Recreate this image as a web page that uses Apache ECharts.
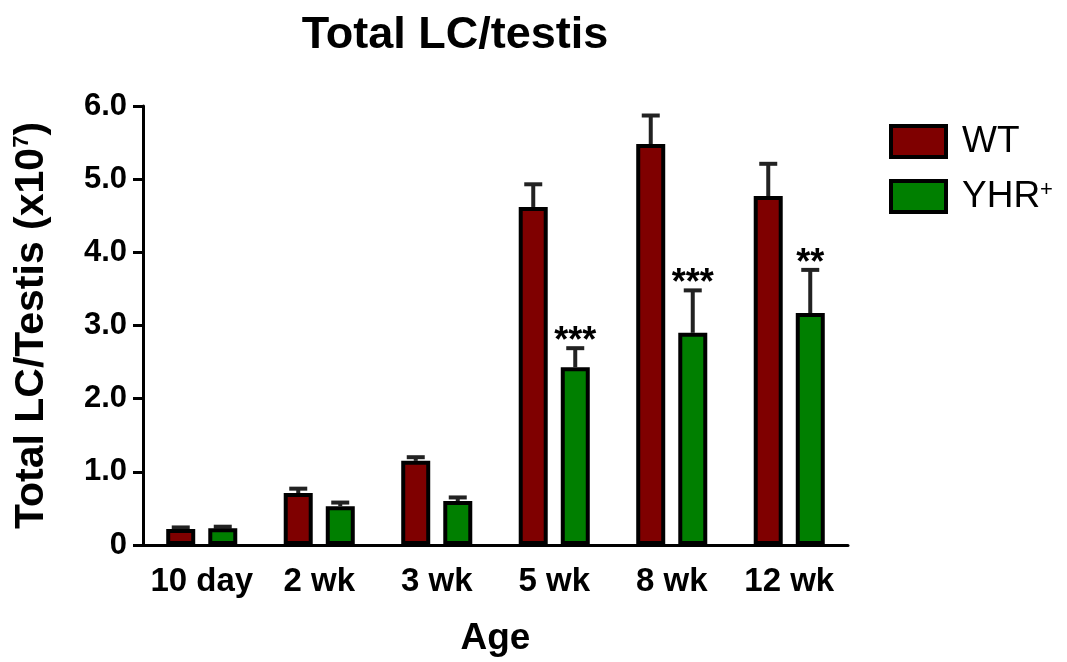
<!DOCTYPE html>
<html>
<head>
<meta charset="utf-8">
<script src="https://cdn.jsdelivr.net/npm/echarts@6/dist/echarts.min.js"></script>
<style>html,body{margin:0;padding:0;background:#fff;}#c{width:1067px;height:662px;}</style>
</head>
<body>
<div id="c"></div>
<script>
const categories = ['10 day', '2 wk', '3 wk', '5 wk', '8 wk', '12 wk'];
const wtMean = [0.22, 0.71, 1.15, 4.62, 5.48, 4.77];
const wtErr = [0.02, 0.06, 0.05, 0.31, 0.39, 0.44];
const yhrMean = [0.23, 0.53, 0.60, 2.43, 2.90, 3.17];
const yhrErr = [0.02, 0.05, 0.05, 0.26, 0.58, 0.59];
const sig = ['', '', '', '***', '***', '**'];

const FONT = 'Liberation Sans, Arial, sans-serif';
const chart = echarts.init(document.getElementById('c'), null, {renderer: 'canvas'});

function errSeries(name, means, errs, offset, stars) {
  return {
    type: 'custom',
    name: name + ' err',
    z: 1,
    silent: true,
    data: means.map((m, i) => [i, m, m + errs[i], stars ? stars[i] : '']),
    renderItem: function (params, api) {
      const i = api.value(0);
      const top = api.coord([i, api.value(1)]);
      const cap = api.coord([i, api.value(2)]);
      const x = top[0] + offset;
      const children = [
        {type: 'line', shape: {x1: x, y1: top[1], x2: x, y2: cap[1]}, style: {stroke: '#222', lineWidth: 4}},
        {type: 'line', shape: {x1: x - 9, y1: cap[1], x2: x + 9, y2: cap[1]}, style: {stroke: '#222', lineWidth: 4}}
      ];
      const s = api.value(3);
      if (s) {
        children.push({type: 'text', style: {text: s, x: x, y: cap[1] + 12, align: 'center', verticalAlign: 'bottom',
          font: 'bold 36px ' + FONT, fill: '#000'}});
      }
      return {type: 'group', children: children};
    }
  };
}

const option = {
  animation: false,
  backgroundColor: '#fff',
  title: {
    text: 'Total LC/testis',
    left: 450, top: 8, textAlign: 'center',
    textStyle: {fontFamily: FONT, fontWeight: 'bold', fontSize: 45, color: '#000'}
  },
  legend: {
    orient: 'vertical', left: 884, top: 118,
    icon: 'rect',
    itemWidth: 55, itemHeight: 31, itemGap: 18,
    itemStyle: {borderColor: '#000', borderWidth: 4},
    data: ['WT', 'YHR+'],
    formatter: function (n) { return n === 'YHR+' ? 'YHR{sup|+}' : n; },
    textStyle: {fontFamily: FONT, fontSize: 37, lineHeight: 36, color: '#000', padding: [0, 0, 0, 11],
      rich: {sup: {fontFamily: FONT, fontSize: 22, lineHeight: 22, verticalAlign: 'top', padding: [0, 0, 18, 0], color: '#000'}}}
  },
  grid: {left: 143, right: 219, top: 106, bottom: 115, containLabel: false},
  xAxis: {
    type: 'category', data: categories,
    name: 'Age', nameLocation: 'middle', nameGap: 75,
    nameTextStyle: {fontFamily: FONT, fontWeight: 'bold', fontSize: 37, color: '#000'},
    axisLine: {lineStyle: {color: '#000', width: 3}},
    axisTick: {alignWithLabel: true, length: 10, lineStyle: {color: '#000', width: 3}},
    axisLabel: {interval: 0, hideOverlap: false, fontFamily: FONT, fontWeight: 'bold', fontSize: 33, color: '#000', margin: 20}
  },
  yAxis: {
    type: 'value', min: 0, max: 6, interval: 1,
    name: 'Total LC/Testis (x10{sup|7})', nameLocation: 'middle', nameRotate: 90, nameGap: 91,
    nameTextStyle: {fontFamily: FONT, fontWeight: 'bold', fontSize: 41, color: '#000',
      rich: {sup: {fontFamily: FONT, fontWeight: 'bold', fontSize: 22, verticalAlign: 'top', padding: [0, 0, 18, 0], color: '#000'}}},
    axisLine: {show: true, lineStyle: {color: '#000', width: 3}},
    axisTick: {show: true, length: 10, lineStyle: {color: '#000', width: 3}},
    splitLine: {show: false},
    axisLabel: {fontFamily: FONT, fontWeight: 'bold', fontSize: 31, color: '#000', margin: 16,
      formatter: function (v) { return v === 0 ? '0' : v.toFixed(1); }}
  },
  series: [
    {name: 'WT', type: 'bar', data: wtMean, barWidth: 29, barGap: '45%', z: 2,
      itemStyle: {color: '#7f0000', borderColor: '#000', borderWidth: 4}},
    {name: 'YHR+', type: 'bar', data: yhrMean, barWidth: 29, z: 2,
      itemStyle: {color: '#007f00', borderColor: '#000', borderWidth: 4}},
    errSeries('WT', wtMean, wtErr, -21, null),
    errSeries('YHR+', yhrMean, yhrErr, 21, sig)
  ]
};
chart.setOption(option);
</script>
</body>
</html>
